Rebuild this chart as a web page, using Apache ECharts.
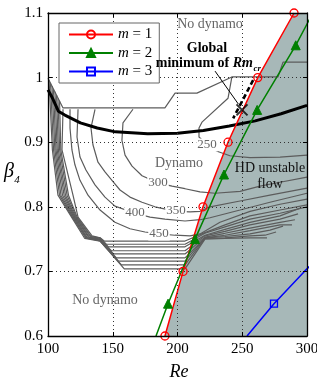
<!DOCTYPE html>
<html><head><meta charset="utf-8">
<script src="https://cdn.jsdelivr.net/npm/echarts@6/dist/echarts.min.js"></script>
<style>html,body{margin:0;padding:0;background:#fff}#c{width:317px;height:385px}</style>
</head><body><div id="c"></div>
<script>
// axis ticks
const xTicks = [100, 150, 200, 250, 300];
const yTicks = [0.6, 0.7, 0.8, 0.9, 1.0, 1.1];

// HD stability boundaries (Re, beta4)
const m1 = [[190.3,0.6],[204.3,0.7],[219.7,0.8],[239,0.9],[262,1.0],[290,1.1]];
const m1Markers = [true,true,true,true,true,true];
const m2 = [[183.4,0.6],[192.7,0.65],[213.5,0.75],[235.9,0.85],[261.5,0.95],[291.3,1.05],[304.5,1.1]];
const m2Markers = [false,true,true,true,true,true,false];
const m3 = [[253.7,0.6],[274.5,0.65],[298,0.7],[323,0.75]];
const m3Markers = [false,true,false,true];

// thick black curve
const rmMinCurve = [[100,0.981],[103,0.97],[108,0.948],[113,0.942],[125,0.930],[138,0.922],[152,0.916],[177,0.913],[200,0.914],[220,0.918],[240,0.925],[260,0.933],[280,0.944],[300,0.957]];
const globalMinPath = [[258.4,0.996],[243.0,0.937]];
const globalMin = [[249.8,0.950]];
const arrowFrom = [229.0,1.010];
const arrowTo = [247.0,0.959];

// Rm_cr contours
const contourEdge = [[100,0.999],[111.6,0.953],[190.3,0.953],[198.1,0.976],[215.0,0.976],[242.0,1.001],[277.6,1.001],[281.5,1.024],[300,1.024]];
const contour250 = [[242.0,1.001],[239.0,0.968],[218.9,0.931],[216.6,0.922],[216.6,0.908],[222.8,0.896],[230.5,0.886],[240.5,0.879],[256.0,0.876],[279.2,0.877],[300,0.880]];
const contour300 = [[165.6,0.951],[157.9,0.930],[157.1,0.903],[159.5,0.880],[164.9,0.863],[172.6,0.848],[184.9,0.837],[195.8,0.832],[205.8,0.828],[217.4,0.823],[229.0,0.821],[248.3,0.824],[263.7,0.832],[279.2,0.838],[300,0.846]];
const contour350 = [[136.3,0.951],[133.2,0.922],[134.7,0.896],[138.6,0.869],[144.0,0.854],[149.4,0.841],[155.6,0.826],[163.3,0.815],[172.6,0.807],[182.6,0.800],[198.8,0.793],[209.7,0.792],[217.4,0.793],[225.1,0.800],[248.3,0.809],[271.4,0.818],[300,0.829]];
const contour400 = [[123.2,0.951],[122.4,0.908],[124.7,0.877],[129.3,0.857],[136.3,0.834],[144.0,0.815],[151.7,0.801],[167.2,0.790],[178.8,0.784],[190.3,0.781],[205.8,0.778],[217.4,0.780],[225.1,0.783],[248.3,0.795],[271.4,0.807],[300,0.821]];
const contour450 = [[117.0,0.951],[117.0,0.922],[118.5,0.888],[120.8,0.865],[124.7,0.841],[130.9,0.818],[140.2,0.795],[151.7,0.776],[163.3,0.766],[174.9,0.761],[185.7,0.758],[198.1,0.756],[209.7,0.755],[217.4,0.758],[232.8,0.776],[256.0,0.793],[279.2,0.804],[300,0.812]];
const contour500 = [[111.6,0.951],[110.8,0.888],[119.3,0.818],[123.2,0.784],[134.0,0.755],[140.2,0.752],[143.4,0.747],[198.1,0.747],[205.8,0.747],[221.2,0.760],[236.7,0.772],[256.0,0.786],[279.2,0.795],[300,0.803]];
const contour550 = [[108.9,0.964],[109.9,0.888],[115.8,0.818],[122.5,0.784],[133.3,0.754],[140.2,0.752],[145.0,0.742],[198.1,0.742],[205.8,0.742],[221.2,0.759],[236.7,0.769],[256.0,0.781],[279.2,0.790],[300,0.800]];
const contour600 = [[107.7,0.968],[109.0,0.888],[114.7,0.818],[121.9,0.784],[132.6,0.754],[140.2,0.751],[146.7,0.738],[198.1,0.738],[205.8,0.738],[221.2,0.756],[236.7,0.765],[256.0,0.776],[279.2,0.786],[294.6,0.798]];
const contour650 = [[106.6,0.973],[108.0,0.888],[113.5,0.818],[121.3,0.784],[131.9,0.753],[140.2,0.750],[148.9,0.732],[198.1,0.732],[205.8,0.732],[221.2,0.755],[236.7,0.762],[256.0,0.772],[279.2,0.781],[293.1,0.789]];
const contour700 = [[105.4,0.978],[107.1,0.888],[112.4,0.818],[120.7,0.784],[131.2,0.753],[140.2,0.749],[150.6,0.727],[198.1,0.727],[205.8,0.727],[221.2,0.753],[236.7,0.759],[256.0,0.767],[279.2,0.776],[290.7,0.780]];
const contour750 = [[104.2,0.982],[106.2,0.888],[111.2,0.818],[120.1,0.784],[130.5,0.752],[140.2,0.749],[152.8,0.721],[198.1,0.721],[205.8,0.721],[221.2,0.752],[236.7,0.756],[256.0,0.763],[279.2,0.772],[288.4,0.772]];
const contour800 = [[103.1,0.987],[105.3,0.888],[110.0,0.818],[119.5,0.784],[129.8,0.752],[140.2,0.748],[154.5,0.716],[198.1,0.716],[205.8,0.716],[221.2,0.752],[236.7,0.754],[256.0,0.758],[271.4,0.764],[281.5,0.770]];
const contour850 = [[101.9,0.992],[104.3,0.888],[108.9,0.818],[118.8,0.784],[129.1,0.752],[140.2,0.747],[156.7,0.710],[198.1,0.710],[205.8,0.710],[221.2,0.751],[236.7,0.752],[256.0,0.755],[267.6,0.756],[276.1,0.761]];
const contour900 = [[100.8,0.996],[103.4,0.888],[107.7,0.818],[118.2,0.784],[128.4,0.751],[140.2,0.747],[158.9,0.704],[198.1,0.704],[205.8,0.704],[221.2,0.750],[236.7,0.751],[256.0,0.752],[269.1,0.752]];

const contours = [contourEdge, contour250, contour300, contour350, contour400, contour450,
  contour500, contour550, contour600, contour650, contour700, contour750, contour800, contour850, contour900];

const SERIF = '"Liberation Serif", "Times New Roman", serif';
const chart = echarts.init(document.getElementById('c'), null, {renderer: 'canvas'});

function withMarkers(pts, flags) {
  return pts.map((p, i) => flags[i] ? {value: p} : {value: p, symbol: 'none'});
}

const contourSeries = contours.map(c => ({
  type: 'line', data: c, symbol: 'none', silent: true, z: 3,
  lineStyle: {color: '#5c5c5c', width: 1.2}
}));

const axisCommon = {
  type: 'value',
  axisLine: {show: true, onZero: false, lineStyle: {color: '#000', width: 1.3}},
  axisTick: {show: true, inside: true, length: 4, lineStyle: {color: '#000', width: 1}},
  z: 10
};

const option = {
  animation: false,
  backgroundColor: '#fff',
  grid: {left: 48, right: 10, top: 13, bottom: 49, containLabel: false, outerBoundsMode: 'none'},
  xAxis: [
    Object.assign({}, axisCommon, {
      min: xTicks[0], max: xTicks[xTicks.length - 1], interval: 50, position: 'bottom',
      axisLabel: {fontFamily: SERIF, fontSize: 15, color: '#000', margin: 6},
      splitLine: {show: true, lineStyle: {color: '#333', type: [1, 3], width: 1}}
    }),
    Object.assign({}, axisCommon, {
      min: xTicks[0], max: xTicks[xTicks.length - 1], interval: 50, position: 'top',
      axisLabel: {show: false}, splitLine: {show: false}
    })
  ],
  yAxis: [
    Object.assign({}, axisCommon, {
      min: yTicks[0], max: yTicks[yTicks.length - 1], interval: 0.1, position: 'left',
      axisLabel: {fontFamily: SERIF, fontSize: 15, color: '#000', margin: 5,
        formatter: v => String(+(+v).toFixed(1))},
      splitLine: {show: true, lineStyle: {color: '#333', type: [1, 3], width: 1}}
    }),
    Object.assign({}, axisCommon, {
      min: yTicks[0], max: yTicks[yTicks.length - 1], interval: 0.1, position: 'right',
      axisLabel: {show: false}, splitLine: {show: false}
    })
  ],
  legend: {
    data: ['m = 1', 'm = 2', 'm = 3'],
    orient: 'vertical', left: 59, top: 23,
    padding: [4, 7, 4, 9], itemGap: 3.5, itemWidth: 44, itemHeight: 10,
    backgroundColor: '#fff', borderColor: '#666', borderWidth: 1, borderRadius: 0,
    z: 20,
    textStyle: {fontFamily: SERIF, fontSize: 15, color: '#000', lineHeight: 15,
      rich: {i: {fontStyle: 'italic', fontFamily: SERIF, fontSize: 15, color: '#000'}}},
    formatter: n => '{i|m}' + n.slice(1)
  },
  series: [
    {
      type: 'line', data: m1.concat([[300, 1.1]]), symbol: 'none', silent: true, z: 1,
      lineStyle: {width: 0, opacity: 0},
      areaStyle: {color: '#a7b8b8', opacity: 1}
    },
    ...contourSeries,
    {
      type: 'line', data: rmMinCurve, symbol: 'none', silent: true, z: 4, smooth: false,
      lineStyle: {color: '#000', width: 3}
    },
    {
      type: 'line', data: globalMinPath, symbol: 'none', silent: true, z: 4,
      lineStyle: {color: '#000', width: 2.6, type: [5, 3]}
    },
    {
      name: 'm = 1', type: 'line', data: withMarkers(m1, m1Markers), z: 5,
      symbol: 'circle', symbolSize: 8, showAllSymbol: true,
      lineStyle: {color: '#ff0000', width: 1.5},
      itemStyle: {color: 'rgba(255,255,255,0)', borderColor: '#ff0000', borderWidth: 1.3}
    },
    {
      name: 'm = 2', type: 'line', data: withMarkers(m2, m2Markers), z: 5,
      symbol: 'triangle', symbolSize: 9, showAllSymbol: true,
      lineStyle: {color: '#008000', width: 1.5},
      itemStyle: {color: '#008000', borderColor: '#008000', borderWidth: 1}
    },
    {
      name: 'm = 3', type: 'line', data: withMarkers(m3, m3Markers), z: 5,
      symbol: 'rect', symbolSize: 7, showAllSymbol: true,
      lineStyle: {color: '#0000ff', width: 1.5},
      itemStyle: {color: 'rgba(255,255,255,0)', borderColor: '#0000ff', borderWidth: 1.3}
    },
    {
      type: 'scatter', data: globalMin, z: 6, silent: true,
      symbol: 'path://M0,0L10,10M10,0L0,10', symbolSize: 11,
      itemStyle: {color: 'rgba(0,0,0,0)', borderColor: '#000', borderWidth: 2},
      markLine: {
        silent: true, symbol: ['none', 'arrow'], symbolSize: [0, 7], animation: false,
        lineStyle: {color: '#000', width: 1, type: 'solid'}, label: {show: false},
        data: [[{coord: arrowFrom}, {coord: arrowTo}]]
      }
    }
  ],
  graphic: [
    {type: 'text', x: 210, y: 24, z: 30, style: {text: 'No dynamo', font: '14px ' + SERIF, fill: '#666', align: 'center', verticalAlign: 'middle'}},
    {type: 'text', x: 207, y: 48, z: 30, style: {text: 'Global', font: 'bold 14px ' + SERIF, fill: '#000', align: 'center', verticalAlign: 'middle'}},
    {type: 'text', x: 253, y: 63, z: 30, style: {text: 'minimum of {it|Rm}', font: 'bold 14px ' + SERIF, fill: '#000', align: 'right', verticalAlign: 'middle',
      rich: {it: {fontStyle: 'italic', fontWeight: 'bold', fontSize: 14, fontFamily: SERIF, fill: '#000'}}}},
    {type: 'text', x: 253.5, y: 69, z: 30, style: {text: 'cr', font: 'italic bold 9px ' + SERIF, fill: '#000', align: 'left', verticalAlign: 'middle'}},
    {type: 'text', x: 179, y: 163, z: 30, style: {text: 'Dynamo', font: '14px ' + SERIF, fill: '#666', align: 'center', verticalAlign: 'middle'}},
    {type: 'text', x: 270, y: 168, z: 30, style: {text: 'HD unstable', font: '14px ' + SERIF, fill: '#111', align: 'center', verticalAlign: 'middle'}},
    {type: 'text', x: 270, y: 184, z: 30, style: {text: 'flow', font: '14px ' + SERIF, fill: '#111', align: 'center', verticalAlign: 'middle'}},
    {type: 'text', x: 105, y: 300, z: 30, style: {text: 'No dynamo', font: '14px ' + SERIF, fill: '#666', align: 'center', verticalAlign: 'middle'}},
    // contour labels
    {type: 'text', x: 207, y: 145, z: 30, style: {text: '250', font: '13px ' + SERIF, fill: '#666', align: 'center', verticalAlign: 'middle', backgroundColor: '#fff', padding: [0, 1]}},
    {type: 'text', x: 158, y: 183, z: 30, style: {text: '300', font: '13px ' + SERIF, fill: '#666', align: 'center', verticalAlign: 'middle', backgroundColor: '#fff', padding: [0, 1]}},
    {type: 'text', x: 176, y: 211, z: 30, style: {text: '350', font: '13px ' + SERIF, fill: '#666', align: 'center', verticalAlign: 'middle', backgroundColor: '#fff', padding: [0, 1]}},
    {type: 'text', x: 135, y: 213, z: 30, style: {text: '400', font: '13px ' + SERIF, fill: '#666', align: 'center', verticalAlign: 'middle', backgroundColor: '#fff', padding: [0, 1]}},
    {type: 'text', x: 159, y: 234, z: 30, style: {text: '450', font: '13px ' + SERIF, fill: '#666', align: 'center', verticalAlign: 'middle', backgroundColor: '#fff', padding: [0, 1]}},
    // axis names
    {type: 'text', x: 179, y: 372, z: 30, style: {text: 'Re', font: 'italic 18px ' + SERIF, fill: '#000', align: 'center', verticalAlign: 'middle'}},
    {type: 'text', x: 9, y: 172, z: 30, style: {text: 'β', font: 'italic 20px ' + SERIF, fill: '#000', align: 'center', verticalAlign: 'middle'}},
    {type: 'text', x: 17, y: 180, z: 30, style: {text: '4', font: 'italic 11px ' + SERIF, fill: '#000', align: 'center', verticalAlign: 'middle'}}
  ]
};
chart.setOption(option);
</script>
</body></html>
